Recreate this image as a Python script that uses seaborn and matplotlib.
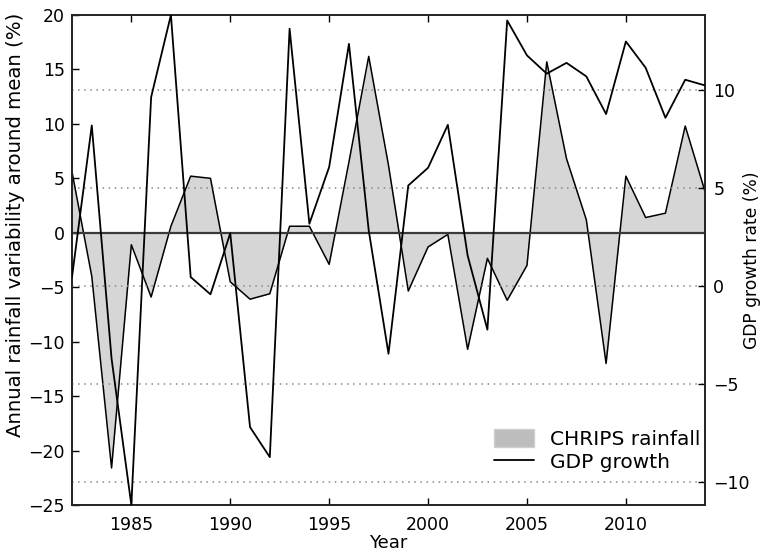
import numpy as np
import pandas as pd
import matplotlib
matplotlib.use("Agg")
import matplotlib.pyplot as plt
import seaborn as sns
from matplotlib.patches import Patch
from matplotlib.lines import Line2D

years = list(range(1982, 2015))
rainfall = [5.6, -4.0, -21.6, -1.1, -5.9, 0.6, 5.2, 5.0, -4.5, -6.1, -5.6,
            0.6, 0.6, -2.9, 6.5, 16.2, 6.2, -5.35, -1.3, -0.15, -10.7, -2.35,
            -6.2, -3.0, 15.7, 6.8, 1.2, -12.0, 5.2, 1.4, 1.8, 9.8, 3.8]
gdp = [0.46, 8.19, -3.7, -11.16, 9.63, 13.82, 0.46, -0.42, 2.70, -7.19, -8.72,
       13.12, 3.18, 6.07, 12.35, 2.84, -3.45, 5.13, 6.03, 8.22, 1.56, -2.22,
       13.54, 11.76, 10.83, 11.38, 10.69, 8.77, 12.47, 11.13, 8.58, 10.52, 10.23]

left_ticks = [-25, -20, -15, -10, -5, 0, 5, 10, 15, 20]
right_ticks = [-10, -5, 0, 5, 10]
xticks = [1985, 1990, 1995, 2000, 2005, 2010]

df = pd.DataFrame({"Year": years, "rain": rainfall, "gdp": gdp})

sns.set_style("white")
plt.rcParams['font.family'] = ['DejaVu Sans']
plt.rcParams['text.color'] = 'black'
plt.rcParams['axes.labelcolor'] = 'black'
plt.rcParams['xtick.color'] = 'black'
plt.rcParams['ytick.color'] = 'black'

fig = plt.figure(figsize=(7.64, 5.54), dpi=100)
ax = fig.add_axes([72/764, 1-505/554, (705-72)/764, (505-15)/554])

ax.fill_between(df["Year"], 0, df["rain"], color="#d6d6d6", linewidth=0, zorder=1)
sns.lineplot(data=df, x="Year", y="rain", ax=ax, color="black", linewidth=1.1, zorder=2)
ax.axhline(0, color="#3a3a3a", linewidth=1.6, zorder=3)
ax.set_xlim(1982, 2014)
ax.set_ylim(-25, 20)
ax.set_yticks(left_ticks)
ax.set_xticks(xticks)
ax.set_xlabel("Year", fontsize=13, labelpad=0)
ax.set_ylabel("Annual rainfall variability around mean (%)", fontsize=14.2)
ax.yaxis.set_label_coords(-0.074, 0.571)
ax.tick_params(axis="both", direction="in", length=5, width=1, labelsize=12.5,
               top=True, left=True, right=False, bottom=True)
ax.tick_params(axis="y", pad=5)
ax.tick_params(axis="x", pad=8)

ax2 = ax.twinx()
sns.lineplot(data=df, x="Year", y="gdp", ax=ax2, color="black", linewidth=1.3, zorder=4)
ax2.set_ylim(-11.16, 13.82)
ax2.set_yticks(right_ticks)
ax2.set_xlim(1982, 2014)
ax2.yaxis.grid(True, linestyle=(0, (1, 3)), color="#888888", linewidth=1.1)
ax2.set_ylabel("GDP growth rate (%)", fontsize=12.3)
ax2.yaxis.set_label_coords(1.0605, 0.5)
ax2.tick_params(axis="y", direction="in", length=5, width=1, labelsize=12.5, right=True, pad=6)
ax2.set_xlabel("")

for a in (ax, ax2):
    for s in a.spines.values():
        s.set_color("#222222")
        s.set_linewidth(1.2)

handles = [Patch(facecolor="#bdbdbd", edgecolor="#cfcfcf", linewidth=1),
           Line2D([0], [0], color="black", linewidth=1.3)]
ax2.legend(handles, ["CHRIPS rainfall", "GDP growth"], loc="lower right",
           frameon=False, fontsize=14.5, handlelength=2.0, handleheight=1.0,
           labelspacing=0.15, bbox_to_anchor=(1.022, 0.03))

fig.savefig("out.png", dpi=100)
